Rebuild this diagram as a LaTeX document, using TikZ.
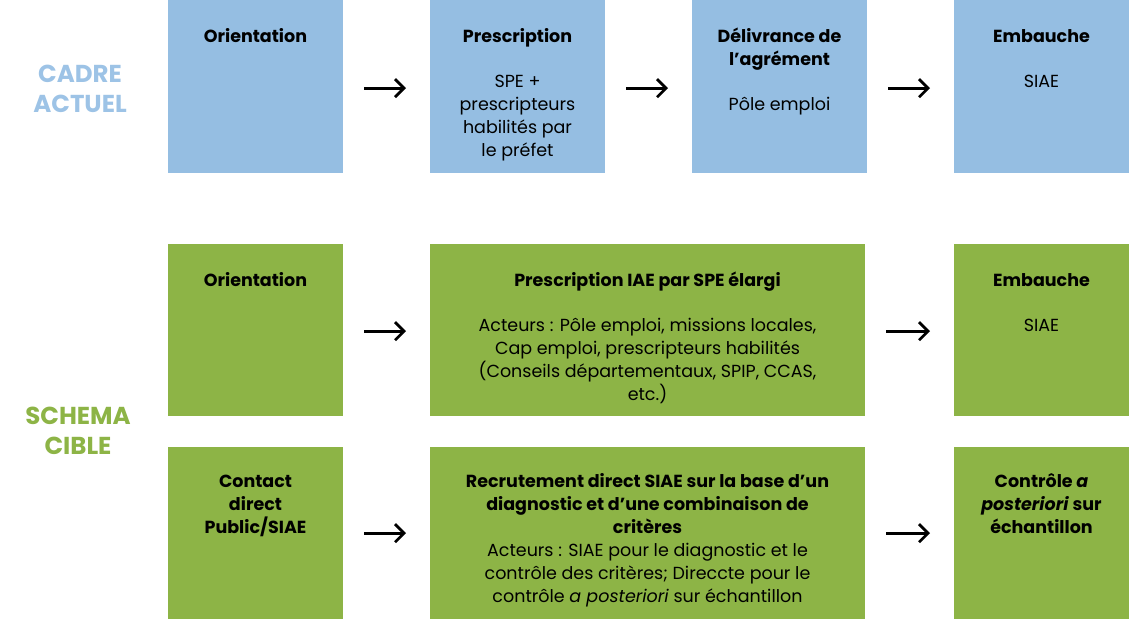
\documentclass[tikz,border=0pt]{standalone}
\usepackage{fontspec}
\setmainfont{Poppins}
\usetikzlibrary{arrows.meta}
\definecolor{cblue}{HTML}{95BEE2}
\definecolor{cgreen}{HTML}{8DB446}
\definecolor{lblue}{HTML}{9DC3E6}
\definecolor{lgreen}{HTML}{8DB446}
\tikzset{
  boxb/.style={fill=cblue, draw=none, anchor=north west, inner sep=0pt, minimum height=173pt},
  boxg/.style={fill=cgreen, draw=none, anchor=north west, inner sep=0pt, minimum height=172pt},
  w1/.style={minimum width=175pt},
  w2/.style={minimum width=435pt},
  ttl/.style={anchor=base, inner sep=0pt, align=center, font=\fontsize{17.5}{23}\selectfont\bfseries},
  bdy/.style={anchor=base, inner sep=0pt, align=center, font=\fontsize{17.5}{23}\selectfont},
  lbl/.style={anchor=base, inner sep=0pt, align=center, font=\fontsize{24.5}{30}\selectfont\bfseries},
  arr/.style={-{Straight Barb[length=9pt,width=18pt]}, line width=2.8pt, shorten <=21pt, shorten >=24pt},
}
\begin{document}
\begin{tikzpicture}[x=1pt,y=1pt]
\useasboundingbox (0,0) rectangle (1130,-619);
% labels (base anchor = last line baseline)
\node[lbl, text=lblue] (cadre) at (80,-112) {CADRE\\ACTUEL};
\node[lbl, text=lgreen] (schema) at (78,-454) {SCHEMA\\CIBLE};
% row 1
\node[boxb,w1] (a1) at (168,0) {};
\node[boxb,w1] (a2) at (430,0) {};
\node[boxb,w1] (a3) at (692,0) {};
\node[boxb,w1] (a4) at (954,0) {};
\node[ttl] (a1t) at (255.5,-42) {Orientation};
\node[ttl] (a2t) at (517.5,-42) {Prescription};
\node[bdy] (a2b) at (517.5,-156) {SPE +\\prescripteurs\\habilités par\\le préfet};
\node[ttl] (a3t) at (779.5,-65) {Délivrance de\\l’agrément};
\node[bdy] (a3b) at (779.5,-110) {Pôle emploi};
\node[ttl] (a4t) at (1041.5,-42) {Embauche};
\node[bdy] (a4b) at (1041.5,-87) {SIAE};
% row 2
\node[boxg,w1] (b1) at (168,-244) {};
\node[boxg,w2] (b2) at (430,-244) {};
\node[boxg,w1] (b3) at (954,-244) {};
\node[ttl] (b1t) at (255.5,-286) {Orientation};
\node[ttl] (b2t) at (647.5,-286) {Prescription IAE par SPE élargi};
\node[bdy] (b2b) at (647.5,-400) {Acteurs : Pôle emploi, missions locales,\\Cap emploi, prescripteurs habilités\\(Conseils départementaux, SPIP, CCAS,\\etc.)};
\node[ttl] (b3t) at (1041.5,-286) {Embauche};
\node[bdy] (b3b) at (1041.5,-331) {SIAE};
% row 3
\node[boxg,w1] (c1) at (168,-447) {};
\node[boxg,w2] (c2) at (430,-447) {};
\node[boxg,w1] (c3) at (954,-447) {};
\node[ttl] (c1t) at (255.5,-533) {Contact\\direct\\Public/SIAE};
\node[ttl] (c2t) at (647.5,-533) {Recrutement direct SIAE sur la base d’un\\diagnostic et d’une combinaison de\\critères};
\node[bdy] (c2b) at (647.5,-602) {Acteurs : SIAE pour le diagnostic et le\\contrôle des critères; Direccte pour le\\contrôle \textit{a posteriori} sur échantillon};
\node[ttl] (c3t) at (1041.5,-533) {Contrôle \textit{a}\\\textit{posteriori} sur\\échantillon};
% arrows
\draw[arr] ([yshift=-1.5pt]a1.east) -- ([yshift=-1.5pt]a2.west);
\draw[arr] ([yshift=-1.5pt]a2.east) -- ([yshift=-1.5pt]a3.west);
\draw[arr] ([yshift=-1.5pt]a3.east) -- ([yshift=-1.5pt]a4.west);
\draw[arr] ([yshift=-1pt]b1.east) -- ([yshift=-1pt]b2.west);
\draw[arr] ([yshift=-1pt]b2.east) -- ([yshift=-1pt]b3.west);
\draw[arr] (c1.east) -- (c2.west);
\draw[arr] (c2.east) -- (c3.west);
\end{tikzpicture}
\end{document}
